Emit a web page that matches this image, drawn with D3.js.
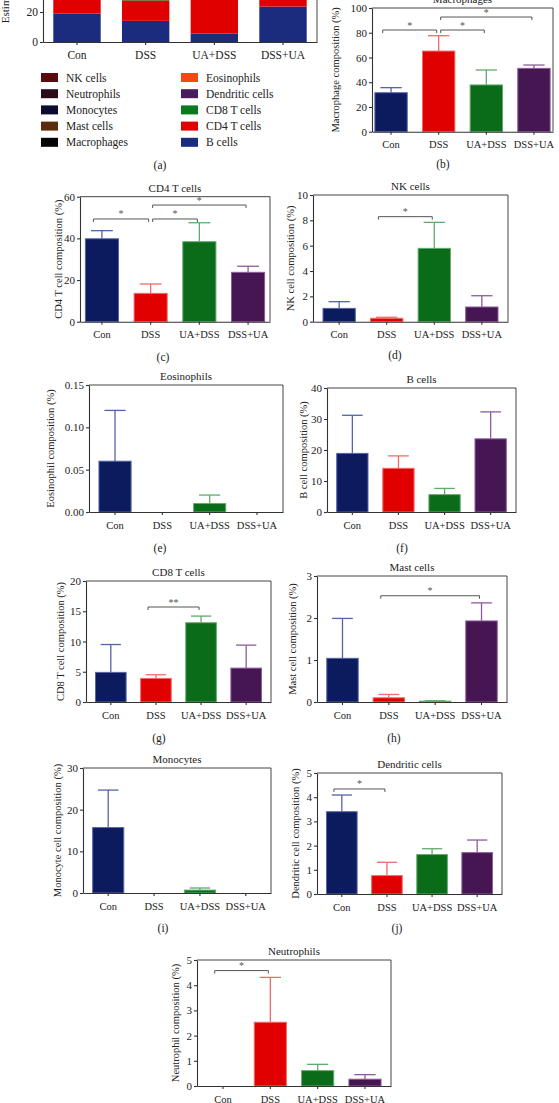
<!DOCTYPE html>
<html><head><meta charset="utf-8">
<script src="https://cdn.jsdelivr.net/npm/d3@7"></script>
<style>body{margin:0;background:#fff;overflow:hidden} svg{display:block}</style>
</head><body>
<svg id="c" width="559" height="1103"></svg>
<script>
// ---------- DATA ----------
const groups = ["Con", "DSS", "UA+DSS", "DSS+UA"];

const macrophageMean = [31.5, 65.2, 37.8, 51.2];
const macrophageErr  = [4.1, 12.4, 12.1, 2.7];
const cd4Mean = [39.8, 13.6, 38.4, 23.7];
const cd4Err  = [3.9, 4.5, 9.1, 2.9];
const nkMean = [1.05, 0.27, 5.79, 1.16];
const nkErr  = [0.53, 0.08, 2.05, 0.89];
const eosMean = [0.06, 0, 0.01, 0];
const eosErr  = [0.06, 0, 0.01, 0];
const bMean = [18.9, 14.1, 5.6, 23.6];
const bErr  = [12.3, 4.0, 2.0, 8.7];
const cd8Mean = [4.9, 3.9, 13.1, 5.6];
const cd8Err  = [4.6, 0.6, 1.1, 3.8];
const mastMean = [1.04, 0.10, 0.02, 1.93];
const mastErr  = [0.95, 0.08, 0.01, 0.43];
const monoMean = [15.7, 0, 0.7, 0];
const monoErr  = [9.0, 0, 0.5, 0];
const dcMean = [3.40, 0.76, 1.63, 1.71];
const dcErr  = [0.69, 0.55, 0.24, 0.52];
const neutMean = [0, 2.53, 0.61, 0.27];
const neutErr  = [0, 1.78, 0.25, 0.18];

// stacked order (bottom -> top)
const cellTypes = ["B cells","CD4 T cells","CD8 T cells","Dendritic cells","Eosinophils",
                   "Macrophages","Mast cells","Monocytes","Neutrophils","NK cells"];
const cellMeans = [bMean, cd4Mean, cd8Mean, dcMean, eosMean, macrophageMean, mastMean, monoMean, neutMean, nkMean];
const cellColors = ["#1b2b7d","#e00000","#0b7a1e","#4a1a5e","#f24a12",
                    "#050505","#5c2a0c","#0b0b33","#2a0b1c","#5a0c0c"];

const stackTicks = [0, 20, 40, 60, 80, 100];
const macTicks = [0, 20, 40, 60, 80, 100];
const cd4Ticks = [0, 20, 40, 60];
const nkTicks = [0, 2, 4, 6, 8, 10];
const eosTicks = [0, 0.05, 0.10, 0.15];
const bTicks = [0, 10, 20, 30, 40];
const cd8Ticks = [0, 5, 10, 15, 20];
const mastTicks = [0, 1, 2, 3];
const monoTicks = [0, 10, 20, 30];
const dcTicks = [0, 1, 2, 3, 4, 5];
const neutTicks = [0, 1, 2, 3, 4, 5];

// significance: [group1, group2, level, label]
const macSig = [["Con","DSS",82.2,"*"],["DSS","UA+DSS",82.2,"*"],["DSS","DSS+UA",92.7,"*"]];
const cd4Sig = [["Con","DSS",49.3,"*"],["DSS","UA+DSS",49.3,"*"],["DSS","DSS+UA",56,"*"]];
const nkSig = [["DSS","UA+DSS",8.29,"*"]];
const cd8Sig = [["DSS","UA+DSS",15.7,"**"]];
const mastSig = [["DSS","DSS+UA",2.53,"*"]];
const dcSig = [["Con","DSS",4.34,"*"]];
const neutSig = [["Con","DSS",4.58,"*"]];

// ---------- STYLE ----------
const FONT = "'Liberation Serif','DejaVu Serif',serif";
const groupFill   = ["#0c1a5e", "#e00000", "#0a6b19", "#461653"];
const groupStroke = ["#5664a6", "#f26a6a", "#62aa6c", "#8c5c9c"];

const svg = d3.select("#c");

function styleAxes(ax, bx, tickFs, labFs) {
  [ax, bx].forEach(a => {
    a.selectAll("path,line").attr("stroke","#333").attr("stroke-width",1.1);
    a.selectAll("text").attr("font-family",FONT).attr("fill","#222");
  });
  ax.selectAll("text").attr("font-size", tickFs);
  bx.selectAll("text").attr("font-size", labFs).attr("y", 16.5).attr("dy", 0);
}

// ---------- PANEL (a) stacked ----------
(function(){
  const L = {left:43, right:317, bottom:42};
  const y = d3.scaleLinear().domain([0, 100]).range([L.bottom, L.bottom - 150]);
  const x = d3.scaleBand().domain(groups).range([L.left, L.right]).paddingInner(0.31).paddingOuter(0.15);
  const rows = groups.map((g, gi) => {
    const r = {group: g};
    cellTypes.forEach((c, ci) => r[c] = cellMeans[ci][gi]);
    return r;
  });
  const series = d3.stack().keys(cellTypes)(rows);
  const g = svg.append("g");
  g.selectAll("g.s").data(series).join("g").attr("fill", (d, i) => cellColors[i])
    .selectAll("rect").data(d => d).join("rect")
    .attr("x", d => x(d.data.group)).attr("width", x.bandwidth())
    .attr("y", d => y(d[1])).attr("height", d => y(d[0]) - y(d[1]));
  g.append("path").attr("d", `M${L.left},${y(100)}H${L.right}V${L.bottom}`)
    .attr("fill","none").attr("stroke","#444").attr("stroke-width",1);
  const visTicks = stackTicks.filter(t => y(t) >= 6);
  const ax = g.append("g").attr("transform", `translate(${L.left},0)`)
    .call(d3.axisLeft(y).tickValues(visTicks).tickSize(3).tickPadding(2).tickSizeOuter(0).tickFormat(d3.format("d")));
  const bx = g.append("g").attr("transform", `translate(0,${L.bottom})`)
    .call(d3.axisBottom(x).tickSize(3).tickSizeOuter(0));
  styleAxes(ax, bx, 11.5, 11.5);
  g.append("text").attr("transform", `translate(9,${(y(0)+y(100))/2}) rotate(-90)`)
    .attr("text-anchor","middle").attr("font-family",FONT).attr("font-size",11).attr("fill","#222")
    .text("Estimated proportion (%)");
  // legend
  const leg = cellTypes.slice().reverse();
  leg.forEach((c, i) => {
    const col = Math.floor(i / 5), row = i % 5;
    const lx = col ? 181 : 41, ly = 73 + row * 16.2;
    g.append("rect").attr("x", lx).attr("y", ly).attr("width", 17).attr("height", 9)
      .attr("fill", cellColors[cellTypes.indexOf(c)]);
    g.append("text").attr("x", lx + 25).attr("y", ly + 8.5).attr("font-family",FONT)
      .attr("font-size",11.5).attr("fill","#222").text(c);
  });
})();

// ---------- BAR PANELS ----------
const panels = [
  {title:"Macrophages", ylab:"Macrophage composition (%)", mean:macrophageMean, err:macrophageErr, ticks:macTicks, fmt:"d", sig:macSig,
   L:{left:372,right:553,top:8,bottom:131.7,po:0.05,ylx:335}},
  {title:"CD4 T cells", ylab:"CD4 T cell composition (%)", mean:cd4Mean, err:cd4Err, ticks:cd4Ticks, fmt:"d", sig:cd4Sig,
   L:{left:80,right:270,top:196.7,bottom:321.7,po:0.1,ylx:58}},
  {title:"NK cells", ylab:"NK cell composition (%)", mean:nkMean, err:nkErr, ticks:nkTicks, fmt:"d", sig:nkSig,
   L:{left:313,right:508,top:195,bottom:321.7,po:0.2,ylx:290}},
  {title:"Eosinophils", ylab:"Eosinophil composition (%)", mean:eosMean, err:eosErr, ticks:eosTicks, fmt:".2f", sig:[],
   L:{left:89,right:283,top:385,bottom:512,po:0.2,ylx:50}},
  {title:"B cells", ylab:"B cell composition (%)", mean:bMean, err:bErr, ticks:bTicks, fmt:"d", sig:[],
   L:{left:327,right:516,top:388,bottom:512,po:0.2,ylx:303}},
  {title:"CD8 T cells", ylab:"CD8 T cell composition (%)", mean:cd8Mean, err:cd8Err, ticks:cd8Ticks, fmt:"d", sig:cd8Sig,
   L:{left:86,right:271,top:581,bottom:702,po:0.2,ylx:60}},
  {title:"Mast cells", ylab:"Mast cell composition (%)", mean:mastMean, err:mastErr, ticks:mastTicks, fmt:"d", sig:mastSig,
   L:{left:317,right:507,top:576,bottom:702,po:0.2,ylx:292}},
  {title:"Monocytes", ylab:"Monocyte cell composition (%)", mean:monoMean, err:monoErr, ticks:monoTicks, fmt:"d", sig:[],
   L:{left:83,right:271,top:768,bottom:893,po:0.2,ylx:57}},
  {title:"Dendritic cells", ylab:"Dendritic cell composition (%)", mean:dcMean, err:dcErr, ticks:dcTicks, fmt:"d", sig:dcSig,
   L:{left:317,right:502,top:773,bottom:894,po:0.2,ylx:295}},
  {title:"Neutrophils", ylab:"Neutrophil composition (%)", mean:neutMean, err:neutErr, ticks:neutTicks, fmt:"d", sig:neutSig,
   L:{left:197,right:391,top:960,bottom:1086,po:0.2,ylx:175}}
];

panels.forEach(p => {
  const L = p.L;
  const g = svg.append("g");
  const y = d3.scaleLinear().domain([0, d3.max(p.ticks)]).range([L.bottom, L.top]);
  const x = d3.scaleBand().domain(groups).range([L.left, L.right]).paddingInner(0.3).paddingOuter(L.po);
  const bw = x.bandwidth();
  const data = groups.map((gname, i) => ({g: gname, i, m: p.mean[i], e: p.err[i]}));

  g.selectAll("rect.bar").data(data.filter(d => d.m > 0)).join("rect")
    .attr("x", d => x(d.g) + 0.5).attr("width", bw - 1)
    .attr("y", d => y(d.m)).attr("height", d => Math.max(0, y(0) - y(d.m)))
    .attr("fill", d => groupFill[d.i]).attr("stroke", d => groupStroke[d.i]).attr("stroke-width", 1);
  const eb = data.filter(d => d.e > 0);
  g.selectAll("line.ev").data(eb).join("line")
    .attr("x1", d => x(d.g) + bw/2).attr("x2", d => x(d.g) + bw/2)
    .attr("y1", d => y(d.m)).attr("y2", d => y(d.m + d.e))
    .attr("stroke", d => groupStroke[d.i]).attr("stroke-width", 1.3);
  g.selectAll("line.ec").data(eb).join("line")
    .attr("x1", d => x(d.g) + bw/2 - bw*0.32).attr("x2", d => x(d.g) + bw/2 + bw*0.32)
    .attr("y1", d => y(d.m + d.e)).attr("y2", d => y(d.m + d.e))
    .attr("stroke", d => groupStroke[d.i]).attr("stroke-width", 1.3);

  g.append("path").attr("d", `M${L.left},${L.top}H${L.right}V${L.bottom}`)
    .attr("fill","none").attr("stroke","#444").attr("stroke-width",1);
  const ax = g.append("g").attr("transform", `translate(${L.left},0)`)
    .call(d3.axisLeft(y).tickValues(p.ticks).tickSize(3).tickPadding(2).tickSizeOuter(0).tickFormat(d3.format(p.fmt)));
  const bx = g.append("g").attr("transform", `translate(0,${L.bottom})`)
    .call(d3.axisBottom(x).tickSize(3).tickSizeOuter(0));
  styleAxes(ax, bx, 11, 10.5);

  g.append("text").attr("x", (L.left + L.right)/2).attr("y", L.top - 5)
    .attr("text-anchor","middle").attr("font-family",FONT).attr("font-size",11).attr("fill","#222").text(p.title);
  g.append("text").attr("transform", `translate(${L.ylx + 3.5},${(L.top + L.bottom)/2}) rotate(-90)`)
    .attr("text-anchor","middle").attr("font-family",FONT).attr("font-size",10.5).attr("fill","#222").text(p.ylab);

  const ends = new Set();
  p.sig.forEach(s => {
    const c1 = x(s[0]) + bw/2, c2 = x(s[1]) + bw/2;
    const x1 = ends.has(s[0]) ? c1 + 2 : c1 - bw*0.25;
    const x2 = c2 - 2;
    ends.add(s[1]);
    const yy = y(s[2]);
    g.append("path").attr("d", `M${x1},${yy+3}V${yy}H${x2}V${yy+3}`)
      .attr("fill","none").attr("stroke","#555").attr("stroke-width",1);
    g.append("text").attr("x", (x1 + x2)/2).attr("y", yy - 1.5).attr("text-anchor","middle")
      .attr("font-family",FONT).attr("font-size",10).attr("fill","#555").text(s[3]);
  });
});

// ---------- sub-panel letters ----------
const letters = ["(a)","(b)","(c)","(d)","(e)","(f)","(g)","(h)","(i)","(j)"];
const letterPos = [[160,169],[443,168],[163,361],[395,359],[160,552],[402,552],[159,742],[394,742],[163,932],[397,932]];
letters.forEach((t, i) => {
  svg.append("text").attr("x", letterPos[i][0]).attr("y", letterPos[i][1]).attr("text-anchor","middle")
    .attr("font-family",FONT).attr("font-size",11.5).attr("fill","#222").text(t);
});
</script>
</body></html>
